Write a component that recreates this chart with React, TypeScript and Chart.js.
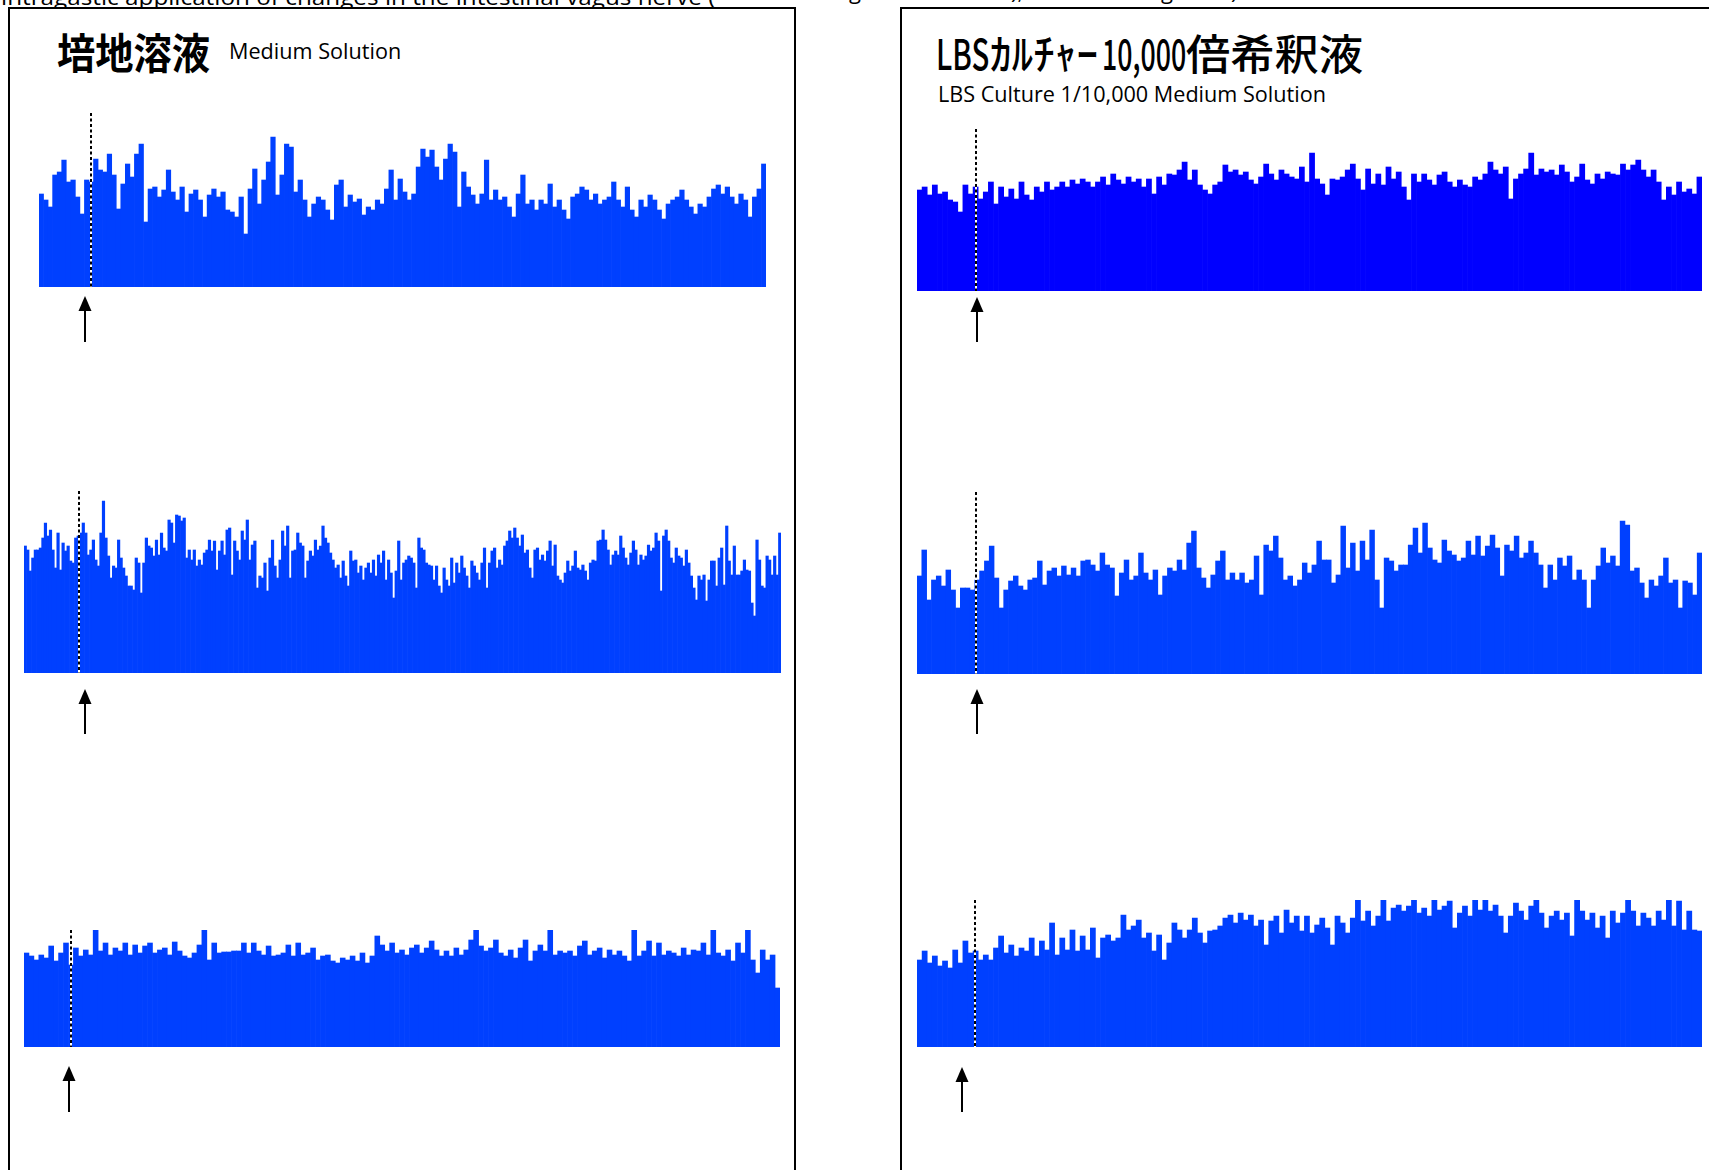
import React, { useEffect, useLayoutEffect, useRef, useState } from "react";
import { Chart, registerables } from "chart.js";

Chart.register(...registerables);

// ---- Data: nerve activity amplitude per time bin ----
const L1_VALUES = [
  93, 87, 80, 112, 115, 127, 105, 107, 90, 73,
  107, 105, 128, 117, 115, 133, 112, 78, 103, 123,
  110, 133, 143, 65, 98, 100, 90, 97, 117, 95,
  87, 100, 75, 93, 97, 87, 70, 92, 98, 90,
  95, 77, 75, 70, 90, 53, 98, 118, 83, 107,
  125, 150, 92, 112, 143, 140, 95, 107, 87, 70,
  83, 90, 87, 77, 67, 102, 107, 80, 92, 85,
  88, 72, 80, 77, 87, 83, 98, 117, 87, 108,
  95, 87, 93, 120, 138, 130, 137, 120, 107, 128,
  143, 135, 80, 115, 100, 92, 83, 93, 127, 87,
  97, 87, 90, 80, 70, 93, 112, 83, 87, 77,
  87, 83, 103, 80, 87, 77, 68, 90, 93, 100,
  97, 87, 93, 83, 87, 90, 105, 87, 80, 100,
  77, 70, 87, 80, 92, 87, 77, 68, 83, 87,
  90, 97, 87, 80, 73, 83, 80, 90, 98, 102,
  93, 100, 90, 83, 93, 87, 70, 90, 98, 123,
];

const L2_VALUES = [
  127, 123, 102, 115, 123, 123, 125, 135, 150, 137,
  143, 123, 105, 140, 103, 130, 122, 127, 112, 110,
  135, 137, 140, 150, 140, 118, 123, 133, 113, 107,
  140, 172, 135, 117, 95, 107, 105, 133, 115, 105,
  97, 87, 87, 83, 115, 110, 80, 110, 135, 127,
  125, 117, 133, 118, 140, 125, 122, 153, 150, 130,
  158, 157, 152, 155, 115, 123, 113, 123, 107, 113,
  108, 120, 123, 133, 122, 132, 103, 122, 132, 118,
  143, 145, 98, 132, 122, 113, 142, 133, 153, 113,
  128, 132, 85, 97, 95, 110, 82, 115, 133, 107,
  95, 113, 142, 127, 147, 95, 122, 123, 140, 130,
  127, 95, 112, 122, 117, 133, 123, 127, 147, 135,
  130, 120, 113, 105, 108, 95, 112, 97, 87, 122,
  112, 113, 100, 107, 93, 105, 110, 100, 113, 97,
  118, 110, 122, 93, 113, 100, 75, 102, 132, 93,
  110, 113, 117, 115, 110, 85, 135, 125, 123, 110,
  108, 107, 93, 107, 87, 80, 105, 93, 87, 115,
  90, 110, 100, 117, 105, 97, 85, 112, 107, 100,
  93, 110, 125, 85, 110, 122, 125, 105, 113, 108,
  127, 132, 142, 135, 145, 135, 127, 138, 120, 123,
  105, 95, 123, 125, 113, 118, 112, 122, 132, 107,
  128, 97, 93, 90, 100, 112, 102, 107, 122, 105,
  103, 108, 102, 93, 110, 113, 112, 132, 133, 143,
  133, 123, 108, 118, 122, 118, 137, 125, 115, 108,
  120, 132, 123, 108, 118, 113, 117, 128, 122, 125,
  140, 132, 82, 137, 143, 132, 115, 110, 125, 117,
  115, 107, 123, 110, 97, 85, 73, 97, 93, 98,
  72, 93, 112, 112, 87, 115, 125, 88, 147, 112,
  98, 127, 98, 98, 102, 113, 103, 102, 70, 57,
  133, 113, 87, 85, 117, 113, 98, 117, 98, 140,
];

const L3_VALUES = [
  94, 91, 87, 92, 89, 101, 86, 94, 104, 82,
  99, 91, 97, 92, 117, 96, 104, 92, 99, 96,
  104, 92, 102, 94, 101, 104, 94, 97, 99, 92,
  105, 96, 91, 89, 94, 102, 117, 87, 104, 94,
  95, 95, 96, 96, 104, 94, 104, 96, 92, 101,
  91, 92, 94, 102, 91, 104, 92, 94, 99, 87,
  91, 92, 86, 84, 89, 87, 91, 86, 94, 84,
  91, 111, 102, 96, 104, 94, 97, 92, 99, 102,
  94, 99, 106, 97, 91, 96, 91, 99, 92, 97,
  107, 117, 101, 96, 99, 107, 94, 91, 97, 89,
  99, 107, 86, 96, 102, 96, 117, 92, 96, 94,
  96, 91, 101, 106, 92, 96, 99, 89, 97, 92,
  96, 91, 86, 117, 91, 96, 106, 91, 104, 92,
  96, 94, 91, 99, 92, 97, 96, 104, 92, 117,
  94, 91, 97, 86, 104, 94, 117, 87, 74, 97,
  87, 92, 59,
];

const R1_VALUES = [
  101, 104, 96, 106, 97, 99, 91, 89, 79, 106,
  97, 104, 92, 99, 109, 87, 104, 94, 102, 92,
  109, 96, 91, 104, 99, 109, 101, 104, 109, 104,
  111, 107, 112, 109, 104, 109, 114, 106, 117, 111,
  107, 114, 109, 112, 104, 112, 97, 114, 106, 117,
  116, 121, 129, 111, 121, 106, 101, 97, 106, 109,
  126, 119, 121, 116, 119, 111, 107, 114, 127, 117,
  111, 121, 117, 114, 112, 124, 109, 138, 112, 107,
  96, 112, 111, 114, 121, 127, 112, 101, 122, 107,
  117, 106, 124, 112, 119, 104, 91, 117, 109, 117,
  111, 106, 116, 119, 109, 104, 111, 106, 104, 114,
  111, 117, 129, 121, 117, 124, 92, 112, 117, 122,
  138, 116, 122, 119, 121, 116, 126, 119, 109, 114,
  127, 111, 107, 117, 112, 119, 117, 116, 127, 121,
  126, 131, 121, 114, 121, 109, 91, 104, 96, 109,
  99, 102, 97, 114,
];

const R2_VALUES = [
  98, 124, 74, 94, 98, 88, 104, 84, 66, 86,
  86, 84, 94, 103, 113, 128, 96, 66, 84, 93,
  98, 88, 84, 94, 96, 113, 89, 103, 106, 98,
  108, 99, 106, 98, 113, 114, 109, 103, 121, 109,
  106, 78, 101, 114, 94, 98, 121, 101, 94, 104,
  79, 98, 106, 103, 114, 104, 131, 143, 106, 96,
  86, 99, 113, 123, 94, 101, 94, 101, 91, 94,
  118, 79, 129, 123, 138, 116, 94, 98, 88, 94,
  111, 101, 109, 133, 114, 114, 91, 99, 148, 106,
  131, 103, 133, 114, 144, 94, 66, 116, 113, 103,
  109, 109, 129, 146, 121, 151, 126, 114, 111, 134,
  123, 119, 113, 116, 133, 119, 138, 118, 128, 139,
  126, 98, 129, 123, 138, 116, 121, 133, 121, 109,
  86, 109, 94, 116, 108, 118, 94, 104, 94, 66,
  94, 108, 126, 111, 118, 108, 153, 149, 103, 106,
  91, 76, 94, 88, 98, 116, 91, 94, 66, 93,
  91, 79, 121,
];

const R3_VALUES = [
  87, 96, 84, 91, 81, 86, 79, 97, 84, 106,
  94, 96, 87, 92, 87, 99, 111, 94, 102, 91,
  99, 96, 109, 91, 106, 97, 124, 92, 109, 97,
  117, 96, 111, 97, 119, 89, 109, 112, 106, 109,
  132, 117, 121, 127, 109, 114, 96, 112, 87, 104,
  124, 117, 109, 117, 129, 114, 104, 116, 117, 121,
  129, 132, 124, 134, 127, 132, 121, 127, 102, 126,
  131, 114, 137, 124, 131, 116, 131, 114, 122, 129,
  119, 102, 131, 124, 114, 129, 150, 126, 136, 121,
  131, 150, 126, 139, 142, 136, 141, 150, 134, 139,
  131, 150, 137, 141, 146, 119, 134, 141, 131, 150,
  137, 150, 136, 142, 131, 114, 131, 144, 136, 127,
  141, 150, 134, 119, 131, 136, 127, 134, 111, 150,
  136, 127, 134, 119, 131, 109, 136, 124, 134, 150,
  136, 121, 134, 129, 121, 136, 127, 150, 121, 146,
  117, 136, 117, 116,
];

// stimulus (dashed line) and arrow positions, in time-bin units
const STIM_AT = [10.9, 21.3, 9.1, 11.1, 11.8, 10.9];
const ARROW_AT = [9.6, 23.5, 8.7, 11.2, 11.9, 8.4];

// text
const TOP_LINE = "intragastic application of changes in the intestinal vagus nerve (";
const LEFT_TITLE = "培地溶液";
const LEFT_SUB = "Medium Solution";
const RIGHT_TITLE_PARTS = ["LBS", "ｶﾙﾁｬｰ", "10,000", "倍希釈液"];
const RIGHT_SUB = "LBS Culture 1/10,000 Medium Solution";

// ---- Layout (positions / styles) ----
const BLUE = "#0040ff";
const PURE_BLUE = "#0000ff";

const TRACES = [
  { values: L1_VALUES, color: BLUE, left: 39, top: 113, width: 727, plotH: 174, tip: 9, end: 55 },
  { values: L2_VALUES, color: BLUE, left: 24, top: 491, width: 757, plotH: 182, tip: 16, end: 61 },
  { values: L3_VALUES, color: BLUE, left: 24, top: 930, width: 756, plotH: 117, tip: 19, end: 65 },
  { values: R1_VALUES, color: PURE_BLUE, left: 917, top: 129, width: 785, plotH: 162, tip: 6, end: 51 },
  { values: R2_VALUES, color: BLUE, left: 917, top: 492, width: 785, plotH: 182, tip: 15, end: 60 },
  { values: R3_VALUES, color: BLUE, left: 917, top: 900, width: 785, plotH: 147, tip: 20, end: 65 },
];

const SANS = "'Open Sans', 'Noto Sans', sans-serif";
const CJK = "'Noto Sans CJK JP', 'Noto Sans CJK SC', sans-serif";

function FitText(props: {
  text: string;
  left: number;
  top: number;
  width: number;
  fontSize: number;
  fontFamily?: string;
  fontWeight?: number | string;
}) {
  const ref = useRef<HTMLSpanElement>(null);
  const [sx, setSx] = useState(1);
  useLayoutEffect(() => {
    if (ref.current) {
      const w = ref.current.offsetWidth;
      if (w > 0) setSx(props.width / w);
    }
  }, [props.text, props.width]);
  return (
    <span
      ref={ref}
      style={{
        position: "absolute",
        left: props.left,
        top: props.top,
        fontSize: props.fontSize,
        lineHeight: `${props.fontSize}px`,
        fontFamily: props.fontFamily || SANS,
        fontWeight: props.fontWeight || 400,
        whiteSpace: "nowrap",
        color: "#000",
        transform: `scaleX(${sx})`,
        transformOrigin: "left top",
      }}
    >
      {props.text}
    </span>
  );
}

function Trace(props: {
  values: number[];
  color: string;
  left: number;
  top: number;
  width: number;
  plotH: number;
  tip: number;
  end: number;
  stimAt: number;
  arrowAt: number;
}) {
  const ref = useRef<HTMLCanvasElement>(null);
  const height = props.plotH + props.end + 2;
  useEffect(() => {
    const canvas = ref.current;
    if (!canvas) return;
    const markers = {
      id: "markers",
      afterDatasetsDraw(chart: any) {
        const { ctx, chartArea, scales } = chart;
        const xs = scales.x;
        const dx = Math.round(xs.getPixelForValue(props.stimAt));
        ctx.save();
        ctx.lineWidth = 2;
        ctx.strokeStyle = "#ffffff";
        ctx.beginPath();
        ctx.moveTo(dx, chartArea.top);
        ctx.lineTo(dx, chartArea.bottom);
        ctx.stroke();
        ctx.setLineDash([3, 2.5]);
        ctx.strokeStyle = "#000000";
        ctx.beginPath();
        ctx.moveTo(dx, chartArea.top);
        ctx.lineTo(dx, chartArea.bottom);
        ctx.stroke();
        ctx.setLineDash([]);
        const ax = Math.round(xs.getPixelForValue(props.arrowAt));
        const tipY = chartArea.bottom + props.tip;
        const endY = chartArea.bottom + props.end;
        ctx.fillStyle = "#000";
        ctx.beginPath();
        ctx.moveTo(ax, tipY);
        ctx.lineTo(ax - 6.5, tipY + 15);
        ctx.lineTo(ax + 6.5, tipY + 15);
        ctx.closePath();
        ctx.fill();
        ctx.lineWidth = 2;
        ctx.strokeStyle = "#000";
        ctx.beginPath();
        ctx.moveTo(ax, tipY + 12);
        ctx.lineTo(ax, endY);
        ctx.stroke();
        ctx.restore();
      },
    };
    const chart = new Chart(canvas, {
      type: "bar",
      data: {
        labels: props.values.map((_, i) => String(i)),
        datasets: [
          {
            data: props.values,
            backgroundColor: props.color,
            borderWidth: 0,
            barPercentage: 1,
            categoryPercentage: 1,
            clip: 0,
          } as any,
        ],
      },
      options: {
        responsive: false,
        maintainAspectRatio: false,
        animation: false,
        devicePixelRatio: 1,
        events: [],
        layout: { padding: { left: 0, right: 0, top: 0, bottom: height - props.plotH } },
        scales: {
          x: { display: false },
          y: { display: false, min: 0, max: props.plotH },
        },
        plugins: { legend: { display: false }, tooltip: { enabled: false } },
      },
      plugins: [markers],
    });
    return () => chart.destroy();
  }, []);
  return (
    <canvas
      ref={ref}
      width={props.width}
      height={height}
      style={{ position: "absolute", left: props.left, top: props.top, width: props.width, height }}
    />
  );
}

export default function App() {
  const frame = (left: number, width: number): React.CSSProperties => ({
    position: "absolute",
    left,
    top: 7,
    width,
    height: 1200,
    border: "2px solid #000",
    borderBottom: "none",
    boxSizing: "border-box",
    background: "#fff",
  });
  return (
    <div
      style={{
        position: "fixed",
        left: 0,
        top: 0,
        width: 1709,
        height: 1170,
        overflow: "hidden",
        background: "#fff",
      }}
    >
      <FitText text={TOP_LINE} left={1} top={-15} width={714} fontSize={22} />
      <FitText text="g" left={849} top={-21} width={12} fontSize={22} />
      <FitText text=")," left={1011} top={-21} width={12} fontSize={22} />
      <FitText text="g" left={1161} top={-21} width={12} fontSize={22} />
      <FitText text=")" left={1231} top={-21} width={7} fontSize={22} />

      <div style={frame(8, 788)} />
      <div style={frame(900, 900)} />

      <FitText text={LEFT_TITLE} left={57} top={30} width={153} fontSize={42} fontFamily={CJK} fontWeight={700} />
      <FitText text={LEFT_SUB} left={229} top={39} width={172} fontSize={22} />

      <FitText text={RIGHT_TITLE_PARTS[0]} left={936} top={31} width={53} fontSize={42} fontFamily={CJK} fontWeight={500} />
      <FitText text={RIGHT_TITLE_PARTS[1]} left={990} top={31} width={108} fontSize={42} fontFamily={CJK} fontWeight={500} />
      <FitText text={RIGHT_TITLE_PARTS[2]} left={1102} top={31} width={84} fontSize={42} fontFamily={CJK} fontWeight={500} />
      <FitText text={RIGHT_TITLE_PARTS[3]} left={1186} top={31} width={177} fontSize={42} fontFamily={CJK} fontWeight={500} />
      <FitText text={RIGHT_SUB} left={938} top={82} width={388} fontSize={22} />

      {TRACES.map((t, i) => (
        <Trace key={i} {...t} stimAt={STIM_AT[i]} arrowAt={ARROW_AT[i]} />
      ))}
    </div>
  );
}
